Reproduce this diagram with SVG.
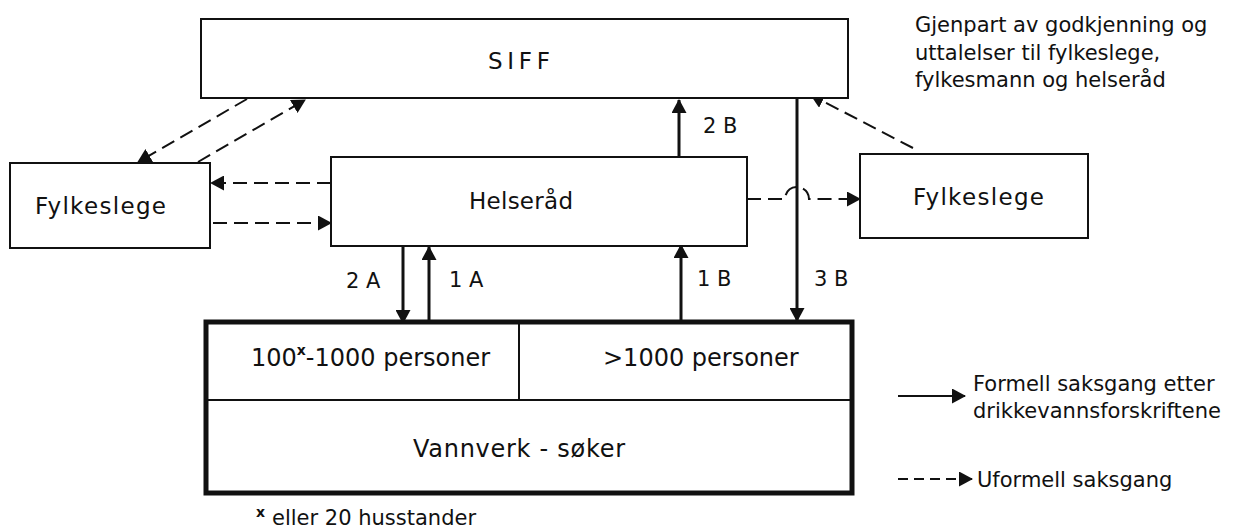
<svg xmlns="http://www.w3.org/2000/svg" width="1233" height="528" viewBox="0 0 1233 528">
<style>
.box{fill:#fff;stroke:#111;stroke-width:2}
.thick{fill:#fff;stroke:#111;stroke-width:5}
.div{fill:none;stroke:#111;stroke-width:2}
.solid{fill:none;stroke:#111;stroke-width:3}
.dash{fill:none;stroke:#111;stroke-width:2;stroke-dasharray:14 7}
text{font-family:"DejaVu Sans","Liberation Sans",sans-serif;fill:#111}
.node{font-size:23px;text-anchor:middle}
.big{font-size:24px}
.lbl{font-size:21px}
.note{font-size:21px}
</style>
<defs>
<marker id="ah" markerUnits="userSpaceOnUse" markerWidth="14" markerHeight="15" refX="13" refY="7.5" orient="auto">
<path d="M0,0 L14,7.5 L0,15 z" fill="#111"/>
</marker>
</defs>
<rect width="1233" height="528" fill="#fff"/>

<g id="connectors">
<path id="c2b" class="solid" d="M679,157 V100" marker-end="url(#ah)"/>
<path id="c1b" class="solid" d="M681,321 V245" marker-end="url(#ah)"/>
<path id="c3b" class="solid" d="M797,97 V321" marker-end="url(#ah)"/>
<path id="c2a" class="solid" d="M403,247 V323" marker-end="url(#ah)"/>
<path id="c1a" class="solid" d="M429,323 V247" marker-end="url(#ah)"/>
<path id="d-siff-fl" class="dash" d="M247,99 L138,162" marker-end="url(#ah)"/>
<path id="d-fl-siff" class="dash" d="M198,162 L305,100" marker-end="url(#ah)"/>
<path id="d-h-fl" class="dash" d="M331,183 H211" marker-end="url(#ah)"/>
<path id="d-fl-h" class="dash" d="M213,223 H331" marker-end="url(#ah)"/>
<path id="d-h-fr" class="dash" d="M747,199 H785 A12,12 0 0 1 809,199 H860" marker-end="url(#ah)"/>
<path id="d-fr-siff" class="dash" d="M913,148 L811,95" marker-end="url(#ah)"/>
<text class="lbl" x="703" y="133">2 B</text>
<text class="lbl" x="697" y="286">1 B</text>
<text class="lbl" x="814" y="286">3 B</text>
<text class="lbl" x="346" y="288">2 A</text>
<text class="lbl" x="449" y="287">1 A</text>
</g>

<g id="siff">
<rect class="box" x="201" y="19" width="647" height="79"/>
<text class="node" x="519" y="69" textLength="62" lengthAdjust="spacing">SIFF</text>
</g>

<g id="fylkeslege-left">
<rect class="box" x="10" y="163" width="200" height="85"/>
<text class="node" x="100.5" y="214" textLength="131" lengthAdjust="spacing">Fylkeslege</text>
</g>

<g id="helserad">
<rect class="box" x="331" y="157" width="416" height="89"/>
<text class="node" x="521" y="209" textLength="104" lengthAdjust="spacing">Helseråd</text>
</g>

<g id="fylkeslege-right">
<rect class="box" x="860" y="154" width="228" height="84"/>
<text class="node" x="978.5" y="205" textLength="131" lengthAdjust="spacing">Fylkeslege</text>
</g>

<g id="vannverk">
<rect class="thick" x="206" y="322" width="646" height="171"/>
<path class="div" d="M206,400 H852 M519,322 V400"/>
<text class="big" x="251" y="366">100<tspan font-size="14" font-weight="bold" dy="-11">x</tspan><tspan dy="11">-1000 personer</tspan></text>
<text class="big" x="603" y="366">&gt;1000 personer</text>
<text class="big" x="519" y="457" text-anchor="middle" textLength="212" lengthAdjust="spacing">Vannverk - søker</text>
</g>

<g id="gjenpart">
<text class="note" x="915" y="32">Gjenpart av godkjenning og</text>
<text class="note" x="915" y="60">uttalelser til fylkeslege,</text>
<text class="note" x="915" y="87">fylkesmann og helseråd</text>
</g>

<g id="legend">
<path class="solid" d="M898,396 H965" marker-end="url(#ah)" style="stroke-width:2"/>
<text class="note" x="973" y="391">Formell saksgang etter</text>
<text class="note" x="973" y="418">drikkevannsforskriftene</text>
<path class="dash" d="M898,479 H972" marker-end="url(#ah)" style="stroke-dasharray:10 6"/>
<text class="note" x="977" y="487">Uformell saksgang</text>
</g>

<g id="footnote">
<text class="note"><tspan x="256" y="517" font-size="14" font-weight="bold">x</tspan><tspan x="272" y="525">eller 20 husstander</tspan></text>
</g>
</svg>
